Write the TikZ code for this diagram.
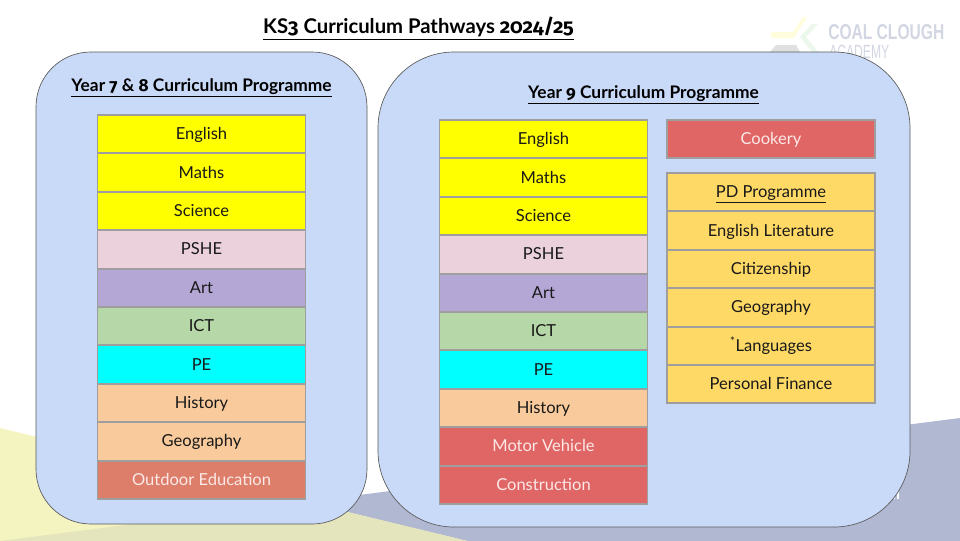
\documentclass[tikz,border=0pt]{standalone}
\usepackage{fontspec}
\setmainfont{Lato}
\newfontfamily\logofont{Liberation Sans}
\newfontfamily\numfont[Numbers=OldStyle]{Fira Sans}
\usetikzlibrary{positioning}
\definecolor{panelblue}{HTML}{C9DAF8}
\definecolor{rowgrey}{HTML}{9E9E9E}
\definecolor{coreyellow}{HTML}{FFFF00}
\definecolor{pshepink}{HTML}{EAD1DC}
\definecolor{artpurple}{HTML}{B4A7D6}
\definecolor{ictgreen}{HTML}{B6D7A8}
\definecolor{pecyan}{HTML}{00FFFF}
\definecolor{humpeach}{HTML}{F9CB9C}
\definecolor{optred}{HTML}{E06666}
\definecolor{outdoorred}{HTML}{DD7E6B}
\definecolor{pdgold}{HTML}{FFD966}
\definecolor{paletext}{HTML}{FBE9E7}
\definecolor{bggrey}{HTML}{B0B8D2}
\definecolor{bgyellow}{HTML}{F4F4C0}
\definecolor{bgolive}{HTML}{E5E5BD}
\definecolor{logogrey}{HTML}{D2D6E2}
\tikzset{
    x=0.75pt, y=-0.75pt,
    panel/.style={draw=black!65, line width=0.5pt, fill=panelblue},
    row/.style={draw=rowgrey, line width=1.4pt, outer sep=0pt, inner sep=0pt,
        minimum width=156pt, minimum height=28.8pt, font=\fontsize{12.4}{14}\selectfont,
        text=black!90, text height=10pt, text depth=1.8pt},
    palerow/.style={row, text=paletext},
    head/.style={font=\fontsize{13}{14}\selectfont\bfseries, inner sep=0pt}
}
\newcommand{\rowB}[4]{\node[row, fill=#3, below=0pt of #1] (#2) {#4};}
\newcommand{\rowP}[4]{\node[palerow, fill=#3, below=0pt of #1] (#2) {#4};}
\begin{document}
\begin{tikzpicture}
    \useasboundingbox (0,0) rectangle (960,540);
    % background
    \begin{scope}
        \clip (0,0) rectangle (960,540);
        \fill[bggrey] (0,541) -- (960,418) -- (960,545) -- (0,545) -- cycle;
        \fill[bgyellow] (0,428) -- (484,545) -- (0,545) -- cycle;
        \fill[bgolive] (0,541) -- (305,502) -- (484,545) -- (0,545) -- cycle;
    \end{scope}
    \fill[white] (893,491) rectangle (895,499);
    \fill[white] (897,491) rectangle (899,499);
    % logo
    \fill[yellow!14] (771,32) -- (793,32) -- (803,17) -- (807,17) -- (794,38) -- (771,38) -- cycle;
    \fill[cyan!8!green!8] (806,37) -- (818,24) -- (812,24) -- (800,37) -- (812,52) -- (818,52) -- cycle;
    \fill[black!12] (770,52) -- (776,45) -- (796,45) -- (800,52) -- cycle;
    \node[inner sep=0pt, anchor=south west, text=logogrey] (logoname) at (828,40) {\resizebox{87pt}{11.25pt}{\logofont\bfseries COAL CLOUGH}};
    \node[inner sep=0pt, anchor=south west, text=logogrey] (logosub) at (829,59) {\resizebox{45pt}{10pt}{\logofont ACADEMY}};
    % title
    \node[head, font=\fontsize{15.2}{16}\selectfont\bfseries] (title) at (418.5,28.5) {\underline{KS{\numfont 3} Curriculum Pathways {\numfont 2024/25}}};
    % panels
    \draw[panel, rounded corners=41pt] (36,52) rectangle (367,524);
    \draw[panel, rounded corners=57pt] (378,52) rectangle (910,527);
    \node[head] (lefthead) at (201.5,88) {\underline{Year {\numfont 7} \& {\numfont 8} Curriculum Programme}};
    \node[head] (righthead) at (643.5,95) {\underline{Year {\numfont 9} Curriculum Programme}};
    % year 7 and 8
    \node[row, fill=coreyellow, anchor=north] (lenglish) at (201.5,115) {English};
    \rowB{lenglish}{lmaths}{coreyellow}{Maths}
    \rowB{lmaths}{lscience}{coreyellow}{Science}
    \rowB{lscience}{lpshe}{pshepink}{PSHE}
    \rowB{lpshe}{lart}{artpurple}{Art}
    \rowB{lart}{lict}{ictgreen}{ICT}
    \rowB{lict}{lpe}{pecyan}{PE}
    \rowB{lpe}{lhistory}{humpeach}{History}
    \rowB{lhistory}{lgeography}{humpeach}{Geography}
    \rowP{lgeography}{loutdoor}{outdoorred}{Outdoor Education}
    % year 9
    \node[row, fill=coreyellow, anchor=north] (renglish) at (543.5,120) {English};
    \rowB{renglish}{rmaths}{coreyellow}{Maths}
    \rowB{rmaths}{rscience}{coreyellow}{Science}
    \rowB{rscience}{rpshe}{pshepink}{PSHE}
    \rowB{rpshe}{rart}{artpurple}{Art}
    \rowB{rart}{rict}{ictgreen}{ICT}
    \rowB{rict}{rpe}{pecyan}{PE}
    \rowB{rpe}{rhistory}{humpeach}{History}
    \rowP{rhistory}{rmotor}{optred}{Motor Vehicle}
    \rowP{rmotor}{rconstruction}{optred}{Construction}
    % options
    \node[palerow, fill=optred, anchor=north] (cookery) at (771,120) {Cookery};
    \node[row, fill=pdgold, anchor=north] (pdhead) at (771,173) {\underline{PD Programme}};
    \rowB{pdhead}{pdliterature}{pdgold}{English Literature}
    \rowB{pdliterature}{pdcitizenship}{pdgold}{Citizenship}
    \rowB{pdcitizenship}{pdgeography}{pdgold}{Geography}
    \rowB{pdgeography}{pdlanguages}{pdgold}{\textsuperscript{*}Languages}
    \rowB{pdlanguages}{pdfinance}{pdgold}{Personal Finance}
\end{tikzpicture}
\end{document}
